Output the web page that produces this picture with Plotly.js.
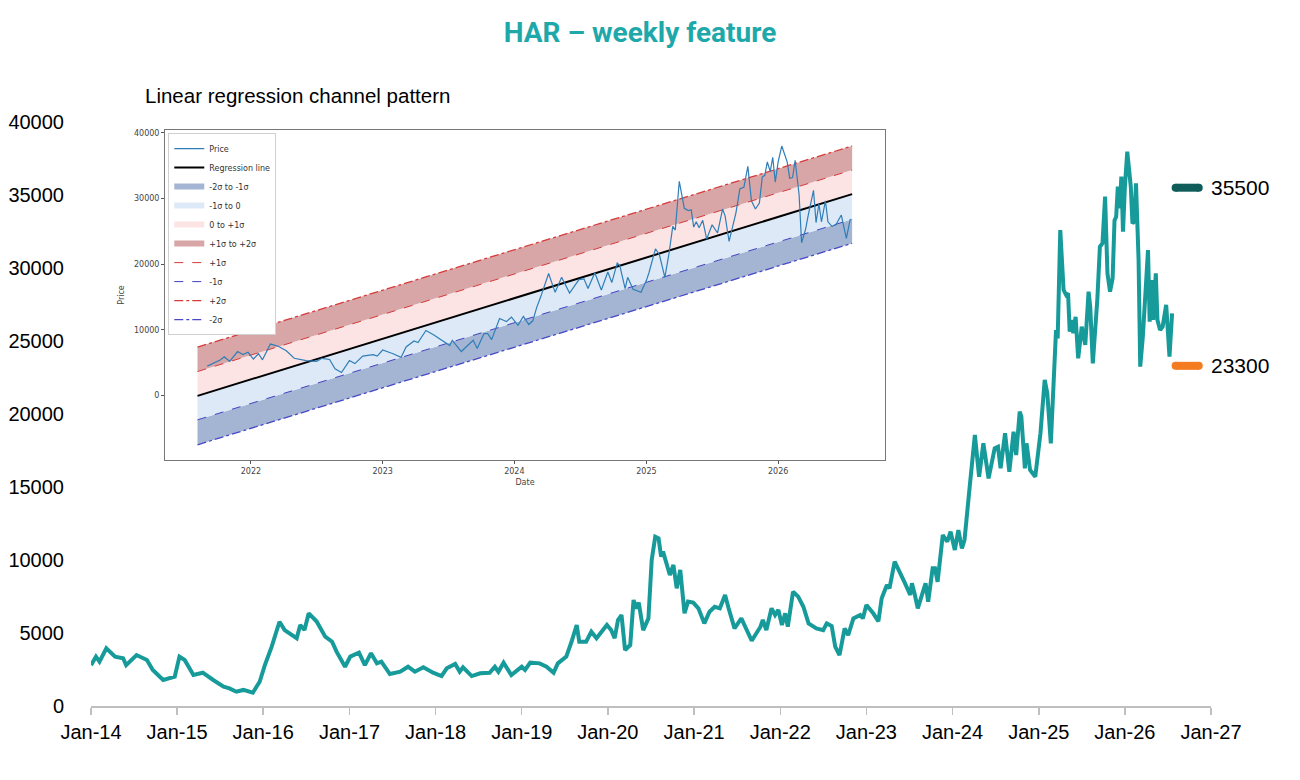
<!DOCTYPE html>
<html>
<head>
<meta charset="utf-8">
<script src="https://cdn.plot.ly/plotly-3.0.1.min.js"></script>
<style>html,body{margin:0;padding:0;background:#fff;}#chart{width:1300px;height:780px;}</style>
</head>
<body>
<div id="chart"></div>
<script>
// ---- data ----
const priceYears = [
2014.00,2014.06,2014.10,2014.18,2014.28,2014.375,2014.41,2014.53,2014.65,2014.72,2014.84,2014.975,
2015.03,2015.09,2015.19,2015.30,2015.42,2015.54,2015.61,2015.69,2015.77,2015.88,2015.96,
2016.02,2016.10,2016.155,2016.19,2016.25,2016.31,2016.39,2016.43,2016.48,2016.53,2016.62,2016.72,2016.80,2016.85,2016.95,
2017.01,2017.11,2017.18,2017.25,2017.32,2017.37,2017.47,2017.59,2017.68,2017.76,2017.86,2017.97,
2018.07,2018.13,2018.23,2018.28,2018.32,2018.42,2018.52,2018.63,2018.69,2018.73,2018.79,2018.88,
2019.00,2019.04,2019.10,2019.21,2019.29,2019.37,2019.42,2019.52,2019.58,2019.64,2019.67,2019.75,2019.81,2019.87,2019.99,
2020.04,2020.08,2020.12,2020.16,2020.20,2020.26,2020.30,2020.33,2020.36,2020.41,2020.47,2020.51,2020.55,2020.59,2020.62,2020.64,2020.68,2020.72,2020.76,2020.80,2020.84,2020.89,2020.93,2020.99,
2021.05,2021.12,2021.18,2021.24,2021.30,2021.36,2021.40,2021.47,2021.55,2021.59,2021.67,2021.77,2021.80,2021.84,2021.90,2021.94,2021.98,
2022.02,2022.06,2022.09,2022.15,2022.21,2022.27,2022.33,2022.42,2022.50,2022.54,2022.60,2022.64,2022.69,2022.75,2022.79,2022.85,2022.93,2022.96,
2023.00,2023.08,2023.14,2023.18,2023.24,2023.27,2023.33,2023.39,2023.45,2023.51,2023.53,2023.56,2023.60,2023.66,2023.69,2023.72,2023.77,2023.80,2023.83,2023.89,2023.94,2023.98,
2024.03,2024.07,2024.11,2024.14,2024.17,2024.20,2024.26,2024.31,2024.36,2024.42,2024.49,2024.53,2024.56,2024.61,2024.66,2024.71,2024.74,2024.78,2024.80,2024.84,2024.86,2024.90,2024.96,
2025.00,2025.02,2025.07,2025.10,2025.14,2025.17,2025.20,2025.22,2025.25,2025.29,2025.32,2025.34,2025.36,2025.38,2025.40,2025.43,2025.46,2025.50,2025.54,2025.58,2025.60,2025.63,2025.68,2025.71,2025.74,2025.77,2025.80,2025.83,2025.86,2025.88,2025.90,2025.92,2025.94,2025.96,2025.98,
2026.00,2026.03,2026.07,2026.09,2026.11,2026.13,2026.16,2026.18,2026.21,2026.23,2026.27,2026.29,2026.31,2026.33,2026.36,2026.38,2026.41,2026.44,2026.48,2026.52,2026.55
];
const priceValues = [
2800,3380,3040,3950,3380,3270,2800,3490,3150,2470,1780,2010,
3380,3150,2120,2280,1780,1320,1210,980,1100,910,1660,
2800,4060,5200,5770,5200,4980,4640,5550,5200,6350,5800,4750,4400,3720,2690,
3380,3650,2800,3610,2920,3040,2190,2350,2690,2350,2650,2280,
2050,2580,2880,2350,2650,2050,2240,2280,2690,2350,2970,2120,
2690,2470,2970,2920,2690,2280,2920,3380,4400,5550,4400,4400,5090,4640,5550,
5200,4640,5890,6230,3840,4180,7260,6690,7080,5200,6000,10000,11600,11490,10230,10570,9890,8970,9660,8060,9320,6350,7150,7080,
6690,5660,6460,6800,6690,7600,6690,5320,6000,5430,4470,5430,5890,5200,6690,6230,6580,
5550,6350,5430,7830,7490,6800,5660,5320,5200,5660,5480,4060,3490,5320,4860,6000,6230,6000,
6920,6350,5800,7380,8290,8060,9890,9200,8400,7600,8400,7720,6690,7830,8400,7150,9430,9430,8510,11710,11250,11940,
10690,12050,10800,11370,13420,15020,18560,15700,17990,15590,17650,17760,16280,18680,16050,18790,17190,20160,19820,16280,17990,16160,15700,
17530,18680,22330,21420,17990,21420,25750,25180,32600,28490,28150,28270,25640,26440,25530,26660,23810,25980,24730,28380,27350,23470,27810,31460,31690,34890,29640,28380,29300,33260,33510,35570,34090,36260,32490,
35570,37970,35570,33060,33170,35800,30550,23240,25300,27350,31230,26320,29180,26440,29640,26440,25750,25980,27470,23930,26890
];
const levelValues = [35500, 23300];
const levelLabels = ['35500', '23300'];

// regression channel (inset), end points
const channelDates = ['2021-08-06', '2026-07-25'];
const regLine   = [-50, 30650];
const plus1Line = [3650, 34320];
const plus2Line = [7370, 37980];
const minus1Line = [-3700, 26820];
const minus2Line = [-7500, 23170];
const insetStartYear = 2021.595;

// ---- helpers / styles ----
function yearToISO(t){
  const y = Math.floor(t);
  const s = Date.UTC(y,0,1), e = Date.UTC(y+1,0,1);
  return new Date(s + (t-y)*(e-s)).toISOString().slice(0,10);
}
const priceDates = priceYears.map(yearToISO);
const insetDates = [], insetVals = [];
priceYears.forEach((t,i)=>{ if(t >= insetStartYear){ insetDates.push(priceDates[i]); insetVals.push(priceValues[i]); } });

const TEAL = '#179B9A';
const levelColors = ['#0F5C5A', '#F47B20'];
const levelSpan = ['2026-08-04', '2026-11-10'];
const FONT = 'Liberation Sans, Arial, sans-serif';
const SMALL = 'DejaVu Sans, sans-serif';

const traces = [];
// main price line
traces.push({x: priceDates, y: priceValues, type:'scatter', mode:'lines',
  line:{color:TEAL, width:4}, showlegend:false, hoverinfo:'skip', xaxis:'x', yaxis:'y'});
// level bars
levelValues.forEach((v,i)=>{
  traces.push({x: levelSpan, y:[v,v], type:'scatter', mode:'lines+markers',
    line:{color:levelColors[i], width:8}, marker:{color:levelColors[i], size:8},
    showlegend:false, hoverinfo:'skip', xaxis:'x', yaxis:'y'});
});
// inset channel
const ix = {xaxis:'x2', yaxis:'y2', hoverinfo:'skip'};
traces.push(Object.assign({x:channelDates, y:minus2Line, type:'scatter', mode:'lines', name:'-2σ',
  line:{color:'#4848C8', width:1.3, dash:'dashdot'}, legendrank:10}, ix));
traces.push(Object.assign({x:channelDates, y:minus1Line, type:'scatter', mode:'none', name:'-2σ to -1σ',
  fill:'tonexty', fillcolor:'#A3B5D3', legendrank:3}, ix));
traces.push(Object.assign({x:channelDates, y:regLine, type:'scatter', mode:'none', name:'-1σ to 0',
  fill:'tonexty', fillcolor:'#DDE9F6', legendrank:4}, ix));
traces.push(Object.assign({x:channelDates, y:plus1Line, type:'scatter', mode:'none', name:'0 to +1σ',
  fill:'tonexty', fillcolor:'#FCE4E5', legendrank:5}, ix));
traces.push(Object.assign({x:channelDates, y:plus2Line, type:'scatter', mode:'none', name:'+1σ to +2σ',
  fill:'tonexty', fillcolor:'#D8A6A7', legendrank:6}, ix));
traces.push(Object.assign({x:channelDates, y:plus1Line, type:'scatter', mode:'lines', name:'+1σ',
  line:{color:'#D63A3A', width:1, dash:'dash'}, legendrank:7}, ix));
traces.push(Object.assign({x:channelDates, y:minus1Line, type:'scatter', mode:'lines', name:'-1σ',
  line:{color:'#4040C0', width:1, dash:'dash'}, legendrank:8}, ix));
traces.push(Object.assign({x:channelDates, y:plus2Line, type:'scatter', mode:'lines', name:'+2σ',
  line:{color:'#D63A3A', width:1.3, dash:'dashdot'}, legendrank:9}, ix));
traces.push(Object.assign({x:channelDates, y:regLine, type:'scatter', mode:'lines', name:'Regression line',
  line:{color:'#000000', width:2}, legendrank:2}, ix));
traces.push(Object.assign({x:insetDates, y:insetVals, type:'scatter', mode:'lines', name:'Price',
  line:{color:'#2F7EB8', width:1.2}, legendrank:1}, ix));

const annotations = levelValues.map((v,i)=>({
  x: levelSpan[1], y: v, xref:'x', yref:'y', xanchor:'left', yanchor:'middle', xshift:10,
  text: levelLabels[i], showarrow:false, font:{family:FONT, size:21, color:'#000'}
}));
annotations.push({x:0.0464, y:1.046, xref:'paper', yref:'paper', xanchor:'left', yanchor:'middle',
  text:'Linear regression channel pattern', showarrow:false, font:{family:FONT, size:20.5, color:'#000'}});

const layout = {
  width:1300, height:780,
  margin:{l:91, r:89, t:122, b:74, pad:0},
  paper_bgcolor:'#fff', plot_bgcolor:'#fff',
  title:{text:'HAR – weekly feature', x:640/1300, xref:'container', xanchor:'center',
    y:1-32/780, yref:'container', yanchor:'middle',
    font:{family:'Roboto, sans-serif', size:28, weight:'bold', color:'#1FA8AA'}},
  showlegend:true,
  legend:{x:0.069, y:0.981, xref:'paper', yref:'paper', xanchor:'left', yanchor:'top', traceorder:'normal',
    font:{family:SMALL, size:8, color:'#333'}, bgcolor:'#fff', bordercolor:'#D0D0D0', borderwidth:1,
    tracegroupgap:0, itemwidth:30},
  xaxis:{type:'date', range:['2014-01-01','2027-01-01'], tickformat:'%b-%y', dtick:'M12', tick0:'2014-01-01',
    ticks:'outside', ticklen:7, tickwidth:1.5, tickcolor:'#BFBFBF', showline:true, linecolor:'#BFBFBF', linewidth:1.5,
    showgrid:false, zeroline:false, tickfont:{family:FONT, size:20, color:'#000'}, fixedrange:true},
  yaxis:{range:[0,40000], dtick:5000, tick0:0, tickformat:'d', ticks:'', showline:false, showgrid:false, zeroline:false,
    ticklabelstandoff:26, tickfont:{family:FONT, size:20, color:'#000'}, fixedrange:true},
  xaxis2:{type:'date', domain:[0.0661, 0.7089], anchor:'y2', range:['2021-05-08','2026-10-24'],
    dtick:'M12', tick0:'2022-01-01', tickformat:'%Y', ticks:'outside', ticklen:3, tickcolor:'#555',
    showline:true, mirror:true, linecolor:'#777', linewidth:1, showgrid:false, zeroline:false,
    tickfont:{family:SMALL, size:8, color:'#444'},
    title:{text:'Date', font:{family:SMALL, size:8, color:'#444'}, standoff:4}},
  yaxis2:{domain:[0.4212, 0.9863], anchor:'x2', range:[-9820, 40410], dtick:10000, tick0:0, tickformat:'d',
    ticks:'outside', ticklen:3, tickcolor:'#555', showline:true, mirror:true, linecolor:'#777', linewidth:1,
    showgrid:false, zeroline:false, tickfont:{family:SMALL, size:8, color:'#444'},
    title:{text:'Price', font:{family:SMALL, size:8, color:'#444'}, standoff:8}},
  annotations: annotations
};
Plotly.newPlot('chart', traces, layout, {displayModeBar:false, staticPlot:true});
</script>
</body>
</html>
